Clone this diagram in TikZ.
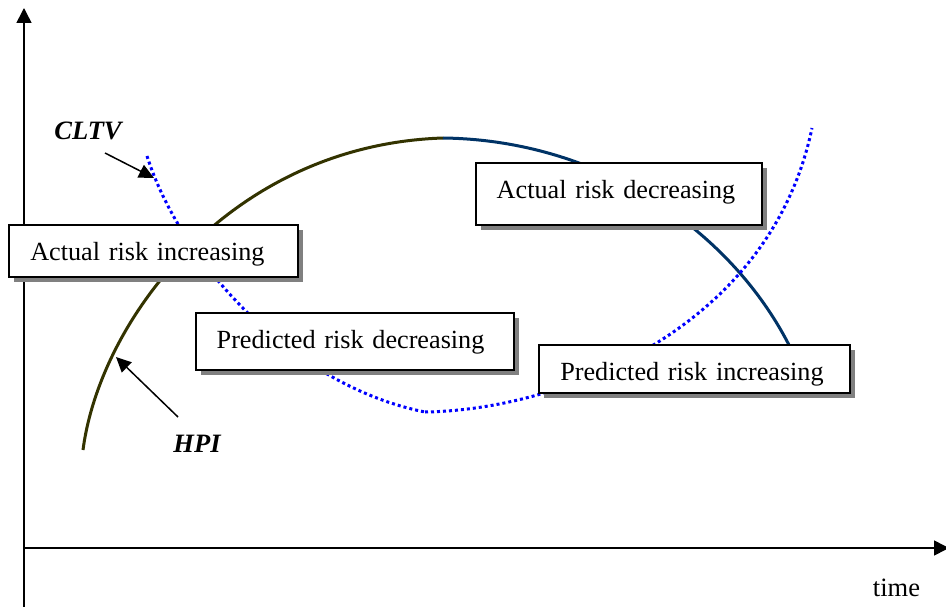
\documentclass[tikz,border=0pt]{standalone}
\usepackage{fontspec}
\setmainfont{Liberation Serif}
\usetikzlibrary{arrows.meta,shadows}
\definecolor{hpil}{HTML}{333300}
\definecolor{hpir}{HTML}{003366}
\definecolor{cltvc}{HTML}{0000FF}
\definecolor{shade}{HTML}{808080}
\tikzset{
 riskbox/.style={draw=black, line width=1.8pt, fill=white, inner xsep=21pt, inner ysep=0pt, outer sep=0pt,
   align=left, text height=35pt, anchor=base west, font=\fontsize{26.2}{30}\selectfont,
   drop shadow={shadow xshift=5pt, shadow yshift=-5pt, fill=shade, opacity=1}},
 axisline/.style={line width=1.6pt, -{Triangle[length=15pt,width=15pt]}},
 pointer/.style={line width=1.5pt, -{Triangle[length=15pt,width=14pt]}},
 curvelbl/.style={font=\fontsize{26.5}{30}\selectfont\bfseries\itshape, inner sep=0pt},
 timelbl/.style={font=\fontsize{26.5}{30}\selectfont, inner sep=0pt},
 cltvline/.style={cltvc, line width=3pt, dash pattern=on 3pt off 3pt},
 hpiline/.style={line width=3pt},
}
\begin{document}
\begin{tikzpicture}[x=1pt,y=-1pt]
\useasboundingbox (0,0) rectangle (946,607);
% axes
\coordinate (yb) at (24,607);
\coordinate (yt) at (24,8);
\coordinate (xo) at (24,548);
\coordinate (xe) at (949,548);
\draw[axisline] (yb) -- (yt);
\draw[axisline] (xo) -- (xe);
\node[timelbl, anchor=base] (time) at (896.5,596) {time};
% HPI curve
\coordinate (h0) at (83,450);
\coordinate (hpeak) at (443,138);
\coordinate (h1) at (789,345);
\draw[hpiline, hpil] (h0) .. controls (100,320) and (230,145) .. (hpeak);
\draw[hpiline, hpir] (hpeak) .. controls (600,140) and (730,230) .. (h1);
% CLTV curve
\coordinate (c0) at (147,156);
\coordinate (cmin) at (425,412);
\coordinate (c1) at (812,128);
\draw[cltvline] (c0) .. controls (180,260) and (290,385) .. (cmin);
\draw[cltvline] (cmin) .. controls (560,410) and (770,330) .. (c1);
% boxes
\node[riskbox, text width=247pt, text depth=16.7pt] (b1) at (9.3,260) {Actual risk increasing};
\node[riskbox, text width=276.6pt, text depth=21.7pt] (b2) at (195.7,348.3) {Predicted risk decreasing};
\node[riskbox, text width=244.6pt, text depth=27pt] (b3) at (475.7,198.3) {Actual risk decreasing};
\node[riskbox, text width=268.7pt, text depth=13.3pt] (b4) at (539.3,380) {Predicted risk increasing};
% labels and pointers
\node[curvelbl, anchor=base] (cltv) at (88,140) {CLTV};
\node[curvelbl, anchor=base] (hpi) at (197,452) {HPI};
\coordinate (cltvtail) at (105,153);
\coordinate (cltvtip) at (154,178);
\coordinate (hpitail) at (178,417);
\coordinate (hpitip) at (116,357);
\draw[pointer] (cltvtail) -- (cltvtip);
\draw[pointer] (hpitail) -- (hpitip);
\end{tikzpicture}
\end{document}
